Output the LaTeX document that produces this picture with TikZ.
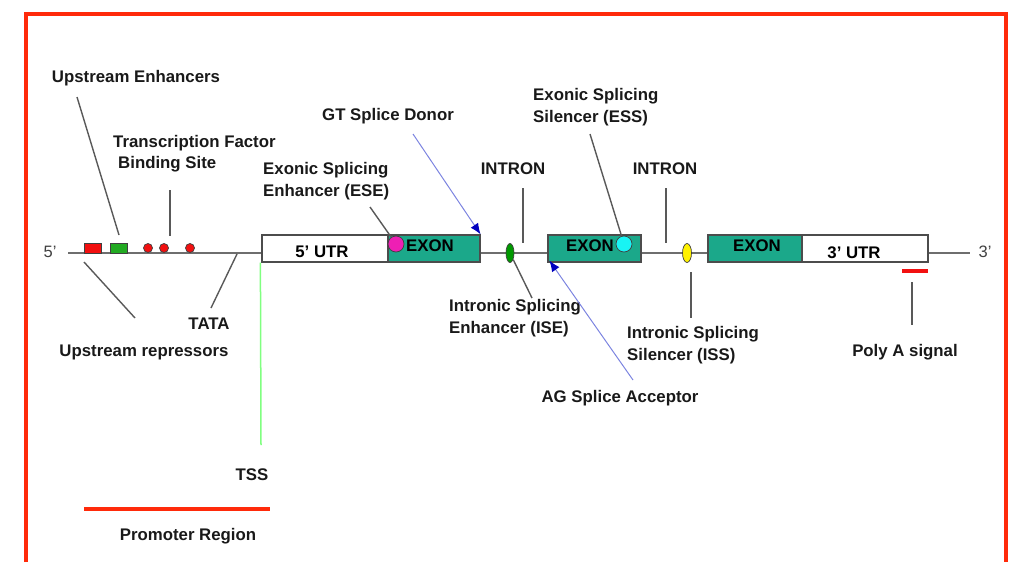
\documentclass[tikz,border=0pt]{standalone}
\usepackage{fontspec}
\setmainfont{Liberation Sans}
\usepackage{xcolor}
\usepackage{tikz}
\usetikzlibrary{arrows.meta, shapes.geometric}

\definecolor{exongreen}{HTML}{1BA88A}
\definecolor{framered}{HTML}{FF2A0A}
\definecolor{linegray}{HTML}{6E6E6E}
\definecolor{arrblue}{HTML}{7C84E0}
\definecolor{esepink}{HTML}{EE1FB4}
\definecolor{esscyan}{HTML}{18F4F4}
\definecolor{sitered}{HTML}{F21010}
\definecolor{sitegreen}{HTML}{22AA22}

\begin{document}
\begin{tikzpicture}[
    x=1pt, y=-1pt,
    lbl/.style = {
        font=\bfseries\fontsize{16.8}{21.5}\selectfont,
        inner sep=0pt, align=left, text=black!90
    },
    endlbl/.style = {
        font=\fontsize{16.5}{20}\selectfont, inner sep=0pt, text=black!75
    },
    gbox/.style = {
        draw=black!70, line width=1.2pt, rectangle,
        minimum height=27pt, inner sep=0pt
    },
    boxtxt/.style = {font=\bfseries\fontsize{16.8}{20}\selectfont, text=black},
    site/.style = {draw=black!75, line width=0.7pt, inner sep=0pt},
    lead/.style = {line width=1.4pt, color=black!65},
    splice/.style = {-{Latex[length=11pt, width=9pt, color=blue!75!black]},
        line width=1pt, color=arrblue}
]
\useasboundingbox (0,0) rectangle (1011,562);

%% ---- FRAME ----
\draw[framered, line width=3.5pt] (26,562) -- (26,14) -- (1006,14) -- (1006,562);

%% ---- GENE BOXES ----
\node[gbox, fill=white, minimum width=126pt] (utr5)  at (325,248.5) {};
\node[gbox, fill=exongreen, minimum width=92pt] (exon1) at (434,248.5) {};
\node[gbox, fill=exongreen, minimum width=93pt] (exon2) at (594.5,248.5) {};
\node[gbox, fill=exongreen, minimum width=94pt] (exon3) at (755,248.5) {};
\node[gbox, fill=white, minimum width=126pt] (utr3)  at (865,248.5) {};

\node[boxtxt] at (322,252) {5’ UTR};
\node[boxtxt] at (854,253) {3’ UTR};
\node[boxtxt] at (430,246) {EXON};
\node[boxtxt] at (590,246) {EXON};
\node[boxtxt] at (757,246) {EXON};

%% ---- BACKBONE ----
\coordinate (end5) at (68,253);
\coordinate (end3) at (970,253);
\draw[linegray, line width=2pt] (end5) -- (end5 -| utr5.west);
\draw[linegray, line width=2pt] (end5 -| exon1.east) -- (end5 -| exon2.west);
\draw[linegray, line width=2pt] (end5 -| exon2.east) -- (end5 -| exon3.west);
\draw[linegray, line width=2pt] (end5 -| utr3.east) -- (end3);
\node[endlbl] (p5) at (50,252) {5’};
\node[endlbl] (p3) at (985,252) {3’};

%% ---- REGULATORY SITES ----
\node[site, rectangle, fill=sitered, minimum width=17pt, minimum height=10pt] (upred) at (93,248) {};
\node[site, rectangle, fill=sitegreen, minimum width=17pt, minimum height=10pt] (upgrn) at (118.5,248) {};
\foreach \x [count=\i] in {148,164,190}
    \node[site, circle, fill=sitered, minimum size=9pt] (tf\i) at (\x,248) {};
\node[site, circle, fill=esepink, minimum size=16pt] (esedot) at (396,244) {};
\node[site, circle, fill=esscyan, minimum size=16pt] (essdot) at (624,244) {};
\node[site, ellipse, fill=green!60!black, minimum width=8pt, minimum height=19pt] (isedot) at (510,253) {};
\node[site, ellipse, fill=yellow, minimum width=9pt, minimum height=19pt] (issdot) at (687,253) {};
\node[rectangle, fill=sitered, minimum width=26pt, minimum height=3.5pt, inner sep=0pt] (polyabar) at (915,271) {};

%% ---- LABELS ----
\node[lbl] (ue)   at (136,78)  {Upstream Enhancers};
\node[lbl, anchor=west] (tfbs) at (113,153.5) {Transcription Factor\\\hspace*{5pt}Binding Site};
\node[lbl, anchor=west] (ese)  at (263,181) {Exonic Splicing\\Enhancer (ESE)};
\node[lbl] (gt)   at (388,116) {GT Splice Donor};
\node[lbl, anchor=west] (ess)  at (533,107) {Exonic Splicing\\Silencer (ESS)};
\node[lbl] (intr1) at (513,169) {INTRON};
\node[lbl] (intr2) at (665,169) {INTRON};
\node[lbl, anchor=west] (ise)  at (449,318) {Intronic Splicing\\Enhancer (ISE)};
\node[lbl, anchor=west] (iss)  at (627,345) {Intronic Splicing\\Silencer (ISS)};
\node[lbl] (ag)   at (620,398) {AG Splice Acceptor};
\node[lbl] (polya) at (905,352) {Poly A signal};
\node[lbl] (tata) at (209,324) {TATA};
\node[lbl] (urep) at (144,352) {Upstream repressors};
\node[lbl] (tss)  at (252,475) {TSS};
\node[lbl] (prom) at (188,536) {Promoter Region};

%% ---- LEADER LINES ----
\coordinate (ue-a)   at (77,97);
\coordinate (ue-b)   at (119,235);
\coordinate (tf-a)   at (170,190);
\coordinate (tf-b)   at (170,236);
\coordinate (ese-a)  at (370,207);
\coordinate (in1-a)  at (523,188);
\coordinate (in1-b)  at (523,243);
\coordinate (in2-a)  at (666,188);
\coordinate (in2-b)  at (666,243);
\coordinate (ess-a)  at (590,134);
\coordinate (ise-b)  at (532,298);
\coordinate (iss-a)  at (691,272);
\coordinate (iss-b)  at (691,318);
\coordinate (pa-a)   at (912,282);
\coordinate (pa-b)   at (912,325);
\coordinate (tata-a) at (237,254);
\coordinate (tata-b) at (211,308);
\coordinate (ur-a)   at (84,262);
\coordinate (ur-b)   at (135,318);
\coordinate (tss-b)  at (261,445);
\coordinate (gt-a)   at (413,134);
\coordinate (ag-a)   at (633,380);

\draw[lead] (ue-a)   -- (ue-b);
\draw[lead] (tf-a)   -- (tf-b);
\draw[lead] (ese-a)  -- (esedot);
\draw[lead] (in1-a)  -- (in1-b);
\draw[lead] (in2-a)  -- (in2-b);
\draw[lead] (ess-a)  -- (essdot);
\draw[lead] (isedot) -- (ise-b);
\draw[lead] (iss-a)  -- (iss-b);
\draw[lead] (pa-a)   -- (pa-b);
\draw[lead] (tata-a) -- (tata-b);
\draw[lead] (ur-a)   -- (ur-b);
\draw[green!50!white, line width=1.5pt] (utr5.south west) ++(-1,0) coordinate (tss-a) -- (tss-b);

%% ---- SPLICE SITES ----
\draw[splice] (gt-a) -- (exon1.north east);
\draw[splice] (ag-a) -- ([xshift=2pt, yshift=2pt]exon2.south west);

%% ---- PROMOTER ----
\coordinate (prom-a) at (84,509);
\coordinate (prom-b) at (270,509);
\draw[framered, line width=4pt] (prom-a) -- (prom-b);

\end{tikzpicture}
\end{document}
